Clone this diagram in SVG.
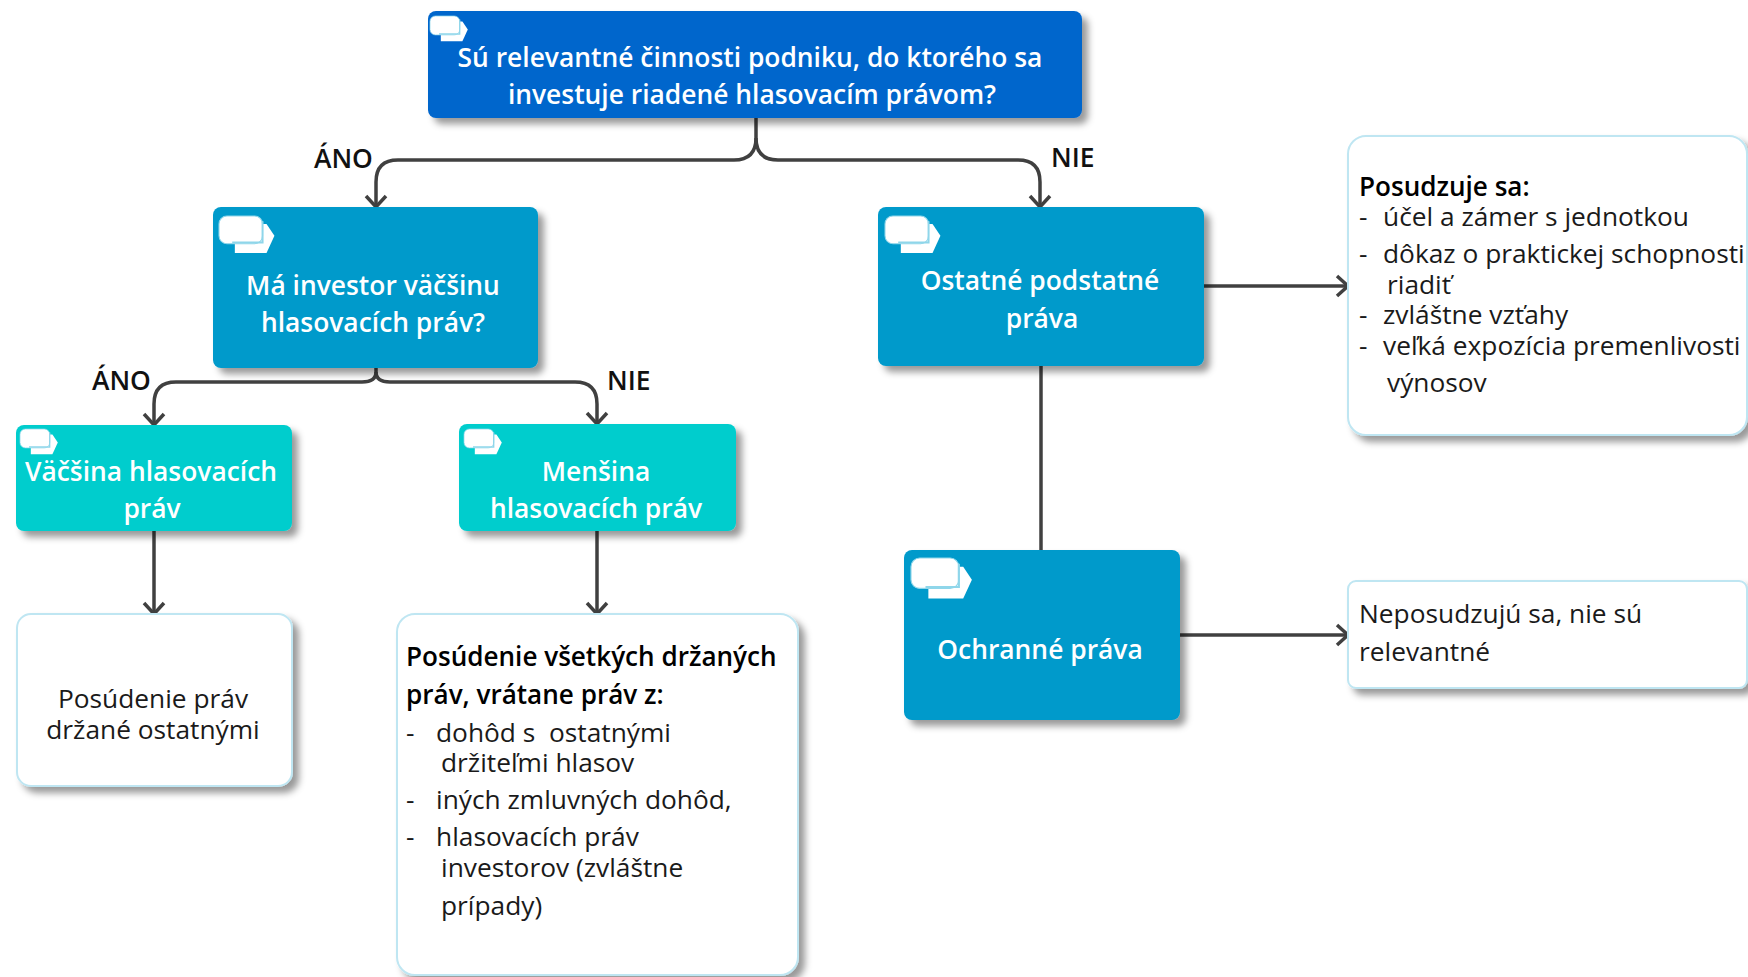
<svg xmlns="http://www.w3.org/2000/svg" width="1748" height="977" viewBox="0 0 1748 977">
<style>
text{font-family:"Open Sans","Noto Sans","Liberation Sans",sans-serif}
.w{fill:#fff;font-size:26.4px;font-weight:600;text-anchor:middle}
.k{fill:#1a1a1a;font-size:26.3px}
.b{fill:#000;font-size:26.1px;font-weight:600}
.l{fill:#111;font-size:26.4px;font-weight:600}
.c{fill:none;stroke:#404040;stroke-width:3.5}
.s1{fill:#0366cc}.s2{fill:#029acb}.s3{fill:#00cdcd}
.s4{fill:#fff;stroke:#bfe6f2;stroke-width:2}
</style>
<defs>
<filter id="sh" x="-10%" y="-10%" width="125%" height="125%"><feDropShadow dx="6" dy="6" stdDeviation="3.5" flood-color="#000" flood-opacity=".4"/></filter>
<marker id="a" markerUnits="userSpaceOnUse" markerWidth="24" markerHeight="24" refX="20" refY="12" orient="auto"><path d="M9 2 L20 12 L9 22" fill="none" stroke="#404040" stroke-width="3.5"/></marker>
<g id="icon"><path d="M12 6H36L42 15L36 28H12Z" fill="#fff"/><rect x="0" y="0" width="33" height="21" rx="6" fill="#fff" stroke="#8fd6ea" stroke-width=".8"/><path d="M33 4V20H10" fill="none" stroke="#8fd6ea" stroke-width="1.5"/></g>
</defs>
<g id="connectors">
<path class="c" d="M756 118V138Q756 160 734 160H398Q376 160 376 182V207" marker-end="url(#a)"/>
<path class="c" d="M756 138Q756 160 778 160H1018Q1040 160 1040 182V207" marker-end="url(#a)"/>
<path class="c" d="M376 368V372Q376 382 362 382H176Q154 382 154 404V425" marker-end="url(#a)"/>
<path class="c" d="M376 372Q376 382 390 382H575Q597 382 597 404V424" marker-end="url(#a)"/>
<path class="c" d="M154 531V614" marker-end="url(#a)"/>
<path class="c" d="M597 531V614" marker-end="url(#a)"/>
<path class="c" d="M1204 286H1348" marker-end="url(#a)"/>
<path class="c" d="M1041 366V550"/>
<path class="c" d="M1180 635H1348" marker-end="url(#a)"/>
</g>
<text class="l" x="314" y="168">ÁNO</text>
<text class="l" x="1051" y="167">NIE</text>
<text class="l" x="92" y="390">ÁNO</text>
<text class="l" x="607" y="390">NIE</text>
<g id="n-top"><rect class="s1" x="428" y="11" width="654" height="107" rx="8" filter="url(#sh)"/><use href="#icon" transform="translate(430,16) scale(.9)"/>
<text class="w" x="750" y="67">Sú relevantné činnosti podniku, do ktorého sa</text><text class="w" x="752" y="104">investuje riadené hlasovacím právom?</text></g>
<g id="n-maj-q"><rect class="s2" x="213" y="207" width="325" height="161" rx="8" filter="url(#sh)"/><use href="#icon" transform="translate(219,216) scale(1.32)"/>
<text class="w" x="373" y="295">Má investor väčšinu</text><text class="w" x="373" y="332">hlasovacích práv?</text></g>
<g id="n-other"><rect class="s2" x="878" y="207" width="326" height="159" rx="8" filter="url(#sh)"/><use href="#icon" transform="translate(885,216) scale(1.32)"/>
<text class="w" x="1040" y="290">Ostatné podstatné</text><text class="w" x="1042" y="328">práva</text></g>
<g id="n-maj"><rect class="s3" x="16" y="425" width="276" height="106" rx="8" filter="url(#sh)"/><use href="#icon" transform="translate(20,429) scale(.9)"/>
<text class="w" x="151" y="481">Väčšina hlasovacích</text><text class="w" x="152" y="518">práv</text></g>
<g id="n-min"><rect class="s3" x="459" y="424" width="277" height="107" rx="8" filter="url(#sh)"/><use href="#icon" transform="translate(464,429) scale(.9)"/>
<text class="w" x="596" y="481">Menšina</text><text class="w" x="596" y="518">hlasovacích práv</text></g>
<g id="n-prot"><rect class="s2" x="904" y="550" width="276" height="170" rx="8" filter="url(#sh)"/><use href="#icon" transform="translate(911,558) scale(1.45)"/>
<text class="w" x="1040" y="659">Ochranné práva</text></g>
<g id="n-posud"><rect class="s4" x="1348" y="136" width="399" height="299" rx="18" filter="url(#sh)"/>
<text class="b" x="1359" y="196">Posudzuje sa:</text>
<text class="k" x="1359" y="226">-</text><text class="k" x="1383" y="226">účel a zámer s jednotkou</text>
<text class="k" x="1359" y="263">-</text><text class="k" x="1383" y="263">dôkaz o praktickej schopnosti</text>
<text class="k" x="1387" y="294">riadiť</text>
<text class="k" x="1359" y="324">-</text><text class="k" x="1383" y="324">zvláštne vzťahy</text>
<text class="k" x="1359" y="355">-</text><text class="k" x="1383" y="355">veľká expozícia premenlivosti</text>
<text class="k" x="1387" y="392">výnosov</text></g>
<g id="n-nepos"><rect class="s4" x="1348" y="581" width="399" height="107" rx="8" filter="url(#sh)"/>
<text class="k" x="1359" y="623">Neposudzujú sa, nie sú</text><text class="k" x="1359" y="661">relevantné</text></g>
<g id="n-hold"><rect class="s4" x="17" y="614" width="275" height="172" rx="14" filter="url(#sh)"/>
<text class="k" x="153" y="708" text-anchor="middle">Posúdenie práv</text><text class="k" x="153" y="739" text-anchor="middle">držané ostatnými</text></g>
<g id="n-all"><rect class="s4" x="397" y="614" width="401" height="361" rx="18" filter="url(#sh)"/>
<text class="b" x="406" y="666">Posúdenie všetkých držaných</text><text class="b" x="406" y="704">práv, vrátane práv z:</text>
<text class="k" x="406" y="742">-</text><text class="k" x="436" y="742" xml:space="preserve">dohôd s  ostatnými</text>
<text class="k" x="441" y="772">držiteľmi hlasov</text>
<text class="k" x="406" y="809">-</text><text class="k" x="436" y="809">iných zmluvných dohôd,</text>
<text class="k" x="406" y="846">-</text><text class="k" x="436" y="846">hlasovacích práv</text>
<text class="k" x="441" y="877">investorov (zvláštne</text>
<text class="k" x="441" y="915">prípady)</text></g>
</svg>
